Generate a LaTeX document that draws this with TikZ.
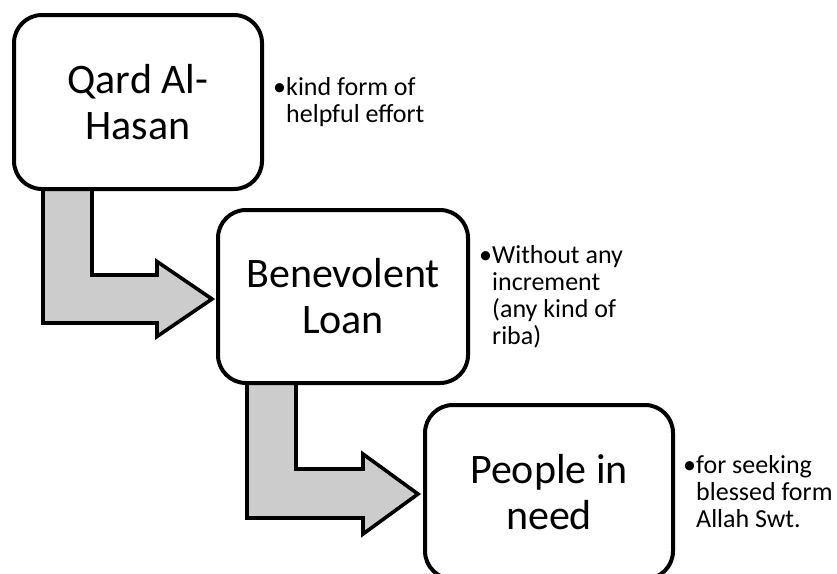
\documentclass[tikz,border=0pt]{standalone}
\usepackage{fontspec}
\setmainfont{Carlito}
\usetikzlibrary{calc}
\definecolor{arrowgray}{HTML}{CCCCCC}
\tikzset{
  stagebox/.style={draw=black, line width=4pt, fill=white, rounded corners=28pt,
    minimum width=248pt, minimum height=174pt, inner sep=0pt, align=center,
    font=\fontsize{42}{46}\selectfont},
  bentarrow/.style={draw=black, line width=3.6pt, fill=arrowgray, line join=miter},
  note/.style={anchor=base west, inner sep=0pt}
}
% bullet paragraph with hanging indent (lines broken with \\ inside one paragraph)
\newcommand{\notetext}[1]{\parbox[t]{220pt}{\fontsize{26}{27.3}\selectfont
  \noindent\hangindent=13pt\hangafter=1\makebox[13pt][l]{•}#1}}
\begin{document}
\begin{tikzpicture}[x=1pt, y=-1pt]
\useasboundingbox (0,0) rectangle (837,573);
\clip (0,0) rectangle (837,573);

% box centres
\coordinate (c1) at (138,102);
\coordinate (c2) at (343,296.5);
\coordinate (c3) at (549,492);

% bent arrows (drawn first so the boxes cover the stem tops)
\draw[bentarrow]
  ($(c1)+(-95,50)$) -- ($(c2)+(-300,26.5)$) -- ($(c2)+(-186,26.5)$)
  -- ($(c2)+(-186,40)$) -- ($(c2)+(-131,2.5)$) -- ($(c2)+(-186,-35)$)
  -- ($(c2)+(-186,-21.5)$) -- ($(c2)+(-251,-21.5)$) -- ($(c1)+(-46,50)$) -- cycle;
\draw[bentarrow]
  ($(c2)+(-96,50)$) -- ($(c3)+(-302,26)$) -- ($(c3)+(-186,26)$)
  -- ($(c3)+(-186,42)$) -- ($(c3)+(-131,2)$) -- ($(c3)+(-186,-38)$)
  -- ($(c3)+(-186,-23)$) -- ($(c3)+(-253,-23)$) -- ($(c2)+(-47,50)$) -- cycle;

% stage boxes
\node[stagebox] (qard) at (c1) {Qard Al-\\Hasan};
\node[stagebox, minimum width=250pt, minimum height=173pt] (loan) at (c2) {Benevolent\\Loan};
\node[stagebox] (need) at (c3) {People in\\need};

% side notes
\node[note] (n1) at (273,95.5) {\notetext{kind form of\\helpful effort}};
\node[note] (n2) at (479,263) {\notetext{Without any\\increment\\(any kind of\\riba)}};
\node[note] (n3) at (683,473) {\notetext{for seeking\\blessed form\\Allah Swt.}};
\end{tikzpicture}
\end{document}
